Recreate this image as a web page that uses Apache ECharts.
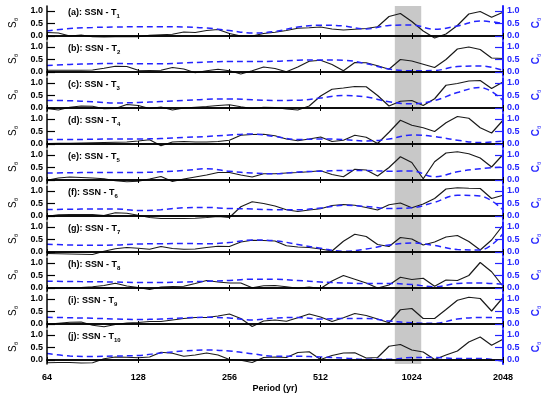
<!DOCTYPE html>
<html><head><meta charset="utf-8">
<script src="https://cdn.jsdelivr.net/npm/echarts@6/dist/echarts.min.js"></script>
<style>html,body{margin:0;padding:0;background:#fff}#c{width:550px;height:399px}</style>
</head><body><div id="c"></div>
<script>
// Period grid (yr), 1/8-octave spacing, for S_theta curves
const periods = [64, 69.8, 76.1, 83.0, 90.5, 98.7, 107.6, 117.4, 128, 139.6, 152.2, 166.0, 181.0, 197.4, 215.3, 234.8, 256, 279.2, 304.4, 332.0, 362.0, 394.8, 430.5, 469.5, 512, 558.3, 608.9, 664.0, 724.1, 789.6, 861.1, 939.0, 1024, 1116.7, 1217.8, 1328.0, 1448.2, 1579.3, 1722.2, 1878.1, 2048];
// Period grid (yr), 1/4-octave spacing, for C_theta curves
const cPeriods = [64, 76.1, 90.5, 107.6, 128, 152.2, 181.0, 215.3, 256, 304.4, 362.0, 430.5, 512, 608.9, 724.1, 861.1, 1024, 1217.8, 1448.2, 1722.2, 2048];
const xTicks = [64, 128, 256, 512, 1024, 2048];
const yTicks = [0, 0.5, 1.0];
const panelLetters = ['a','b','c','d','e','f','g','h','i','j'];
const panelSubs = ['1','2','3','4','5','6','7','8','9','10'];
const shadeRange = [900, 1100];

const sA = [0.14, 0.12, 0.0, 0.04, -0.03, -0.04, -0.03, -0.03, -0.03, 0.03, 0.05, 0.07, 0.16, 0.14, 0.22, 0.26, 0.1, 0.0, 0.0, 0.1, 0.15, 0.22, 0.31, 0.33, 0.36, 0.28, 0.24, 0.27, 0.3, 0.37, 0.78, 0.9, 0.58, 0.2, -0.08, 0.08, 0.42, 0.88, 0.98, 0.75, 0.95];
const sB = [0.07, 0.07, 0.07, 0.07, 0.08, 0.15, 0.23, 0.22, 0.07, 0.06, 0.07, 0.18, 0.12, -0.03, 0.05, 0.11, 0.05, -0.08, 0.05, 0.2, 0.14, 0.01, 0.2, 0.43, 0.47, 0.3, 0.05, 0.38, 0.37, 0.25, 0.11, 0.5, 0.44, 0.31, 0.18, 0.5, 0.92, 1.0, 0.9, 0.56, 0.54];
const sC = [-0.02, -0.08, 0.03, 0.08, 0.07, -0.03, -0.02, 0.14, 0.1, -0.02, 0.04, -0.08, 0.0, 0.03, 0.06, 0.1, 0.13, 0.05, -0.02, 0.03, 0.02, -0.04, -0.08, 0.08, 0.48, 0.75, 0.8, 0.86, 0.85, 0.5, 0.08, 0.27, 0.3, 0.1, 0.37, 0.91, 0.98, 1.08, 1.1, 0.78, 1.04];
const sD = [0.02, 0.03, 0.03, 0.04, 0.05, 0.06, 0.07, 0.08, 0.12, 0.17, -0.07, 0.08, 0.1, 0.08, 0.08, 0.1, 0.15, 0.35, 0.38, 0.39, 0.33, 0.2, 0.13, 0.2, 0.28, 0.1, 0.15, 0.35, 0.27, 0.02, 0.47, 0.95, 0.75, 0.65, 0.5, 0.85, 1.1, 1.03, 0.65, 0.44, 0.95];
const sE = [-0.01, 0.08, 0.12, 0.1, 0.08, 0.05, -0.03, -0.07, -0.05, 0.04, 0.14, -0.06, 0.04, 0.12, 0.2, 0.3, 0.3, 0.2, 0.12, 0.25, 0.25, 0.28, 0.3, 0.33, 0.37, 0.22, 0.13, 0.43, 0.4, 0.16, 0.5, 0.93, 0.7, 0.05, 0.73, 1.08, 1.13, 1.05, 0.88, 0.52, 1.02];
const sF = [-0.01, 0.05, 0.06, 0.06, 0.06, 0.02, 0.13, 0.11, 0.03, -0.06, -0.1, -0.1, -0.1, -0.09, -0.06, -0.02, -0.06, 0.37, 0.57, 0.5, 0.4, 0.25, 0.18, 0.24, 0.29, 0.42, 0.46, 0.43, 0.34, 0.24, 0.45, 0.52, 0.33, 0.48, 0.7, 1.08, 1.13, 1.11, 1.1, 0.7, 0.83];
const sG = [-0.06, -0.07, -0.08, -0.09, -0.1, 0.03, 0.13, 0.18, 0.15, 0.11, 0.22, 0.14, 0.11, 0.12, 0.18, 0.23, 0.22, 0.4, 0.47, 0.46, 0.44, 0.25, 0.2, 0.18, 0.12, 0.04, 0.43, 0.71, 0.62, 0.3, 0.22, 0.58, 0.52, 0.28, 0.4, 0.6, 0.66, 0.42, 0.08, 0.48, 1.07];
const sH = [0.0, 0.0, 0.01, 0.02, 0.05, 0.1, 0.19, 0.08, 0.02, -0.06, 0.04, 0.06, 0.07, 0.18, 0.3, 0.24, 0.2, 0.2, 0.01, 0.09, 0.1, 0.05, -0.01, 0.04, -0.02, 0.28, 0.5, 0.35, 0.2, 0.0, 0.12, 0.43, 0.34, 0.39, 0.07, 0.32, 0.3, 0.5, 1.02, 0.65, 0.07];
const sI = [-0.01, 0.03, 0.07, 0.08, -0.05, -0.11, -0.02, 0.04, 0.06, 0.1, 0.1, 0.16, 0.22, 0.26, 0.26, 0.32, 0.4, 0.22, -0.1, 0.12, 0.16, 0.11, 0.25, 0.4, 0.28, 0.1, 0.25, 0.42, 0.34, 0.2, 0.05, 0.57, 0.62, 0.22, 0.22, 0.58, 0.95, 1.07, 1.02, 0.52, 1.06];
const sJ = [-0.11, -0.1, -0.1, -0.12, -0.11, 0.05, 0.12, 0.11, 0.09, 0.12, 0.31, 0.27, 0.15, 0.2, 0.28, 0.2, 0.02, -0.01, -0.1, 0.1, 0.12, 0.1, 0.3, 0.33, 0.02, 0.18, 0.28, 0.29, 0.08, 0.1, 0.55, 0.62, 0.4, 0.32, 0.02, 0.2, 0.36, 0.72, 0.92, 0.59, 0.83];

const cA = [0.2, 0.3, 0.34, 0.36, 0.37, 0.37, 0.36, 0.32, 0.22, 0.12, 0.18, 0.36, 0.43, 0.4, 0.28, 0.42, 0.44, 0.27, 0.4, 0.6, 0.5];
const cB = [0.26, 0.3, 0.33, 0.34, 0.33, 0.33, 0.36, 0.4, 0.42, 0.42, 0.43, 0.47, 0.48, 0.47, 0.33, 0.12, 0.05, 0.06, 0.22, 0.24, 0.07];
const cC = [0.3, 0.29, 0.25, 0.2, 0.22, 0.26, 0.3, 0.35, 0.36, 0.33, 0.3, 0.31, 0.4, 0.5, 0.44, 0.25, 0.17, 0.3, 0.62, 0.82, 0.3];
const cD = [0.18, 0.18, 0.19, 0.2, 0.2, 0.22, 0.26, 0.3, 0.36, 0.4, 0.3, 0.18, 0.2, 0.18, 0.12, 0.2, 0.36, 0.3, 0.15, 0.06, 0.12];
const cE = [0.28, 0.29, 0.3, 0.3, 0.3, 0.33, 0.38, 0.45, 0.35, 0.28, 0.25, 0.32, 0.35, 0.38, 0.38, 0.35, 0.36, 0.13, 0.33, 0.45, 0.52];
const cF = [0.26, 0.27, 0.28, 0.28, 0.22, 0.25, 0.33, 0.34, 0.3, 0.28, 0.25, 0.25, 0.32, 0.43, 0.38, 0.3, 0.33, 0.55, 0.83, 0.8, 0.24];
const cG = [0.31, 0.28, 0.27, 0.28, 0.32, 0.33, 0.34, 0.33, 0.38, 0.48, 0.45, 0.3, 0.15, 0.03, 0.12, 0.28, 0.36, 0.26, 0.1, 0.08, 0.74];
const cH = [0.27, 0.26, 0.25, 0.24, 0.22, 0.22, 0.24, 0.27, 0.3, 0.35, 0.35, 0.3, 0.24, 0.2, 0.18, 0.18, 0.14, 0.05, 0.18, 0.2, 0.15];
const cI = [0.27, 0.25, 0.23, 0.2, 0.18, 0.2, 0.24, 0.27, 0.24, 0.16, 0.24, 0.26, 0.2, 0.22, 0.22, 0.12, 0.05, 0.03, 0.2, 0.26, 0.25];
const cJ = [0.26, 0.16, 0.14, 0.16, 0.18, 0.28, 0.36, 0.4, 0.36, 0.25, 0.15, 0.15, 0.12, 0.08, 0.03, 0.03, 0.1, 0.1, 0.06, 0.06, -0.05];

const sAll = [sA, sB, sC, sD, sE, sF, sG, sH, sI, sJ];
const cAll = [cA, cB, cC, cD, cE, cF, cG, cH, cI, cJ];

const FONT = 'Liberation Sans, Arial, sans-serif';
const BLUE = '#2424ff';
const N = 10, TOP0 = 6, PITCH = 36, H = 34, YMIN = -0.16, YMAX = 1.2;

const grid = [], xAxis = [], yAxis = [], series = [], title = [];
for (let i = 0; i < N; i++) {
  grid.push({ left: 36, right: 35, top: TOP0 + PITCH * i, height: H });
  const xBase = { gridIndex: i, type: 'log', logBase: 2, min: 64, max: 2048, splitLine: { show: false }, z: 10,
    axisLine: { show: true, lineStyle: { color: '#000', width: 1.5 } },
    axisTick: { show: true, inside: true, length: 3, lineStyle: { color: '#000', width: 1 } } };
  xAxis.push(Object.assign({}, xBase, { position: 'bottom',
    axisLabel: { show: i === N - 1, color: '#000', fontFamily: FONT, fontSize: 9, fontWeight: 'bold', margin: 9,
      customValues: xTicks, formatter: v => String(Math.round(v)) } }));
  xAxis.push(Object.assign({}, xBase, { position: 'top', axisLabel: { show: false } }));
  yAxis.push({ gridIndex: i, type: 'value', min: YMIN, max: YMAX, position: 'left', z: 10,
    axisLine: { show: true, lineStyle: { color: '#000', width: 1.5 } },
    axisTick: { show: true, inside: true, length: 8, customValues: yTicks, lineStyle: { color: '#000', width: 1.2 } },
    axisLabel: { customValues: yTicks, color: '#000', fontFamily: FONT, fontSize: 9, fontWeight: 'bold', margin: 4, formatter: v => v.toFixed(1) },
    splitLine: { show: false },
    name: '{m|S}{s|θ}', nameLocation: 'middle', nameRotate: 90, nameGap: 28,
    nameTextStyle: { rich: { m: { fontFamily: FONT, fontSize: 10, color: '#000' }, s: { fontFamily: FONT, fontSize: 6, color: '#000', padding: [6, 0, 0, 0] } } } });
  yAxis.push({ gridIndex: i, type: 'value', min: YMIN, max: YMAX, position: 'right', z: 10,
    axisLine: { show: true, lineStyle: { color: BLUE, width: 2 } },
    axisTick: { show: true, inside: true, length: 8, customValues: yTicks, lineStyle: { color: BLUE, width: 1.2 } },
    axisLabel: { customValues: yTicks, color: BLUE, fontFamily: FONT, fontSize: 9, fontWeight: 'bold', margin: 4, formatter: v => v.toFixed(1) },
    splitLine: { show: false },
    name: '{m|C}{s|θ}', nameLocation: 'middle', nameRotate: 90, nameGap: 27,
    nameTextStyle: { rich: { m: { fontFamily: FONT, fontSize: 10, color: BLUE, fontWeight: 'bold' }, s: { fontFamily: FONT, fontSize: 6, color: BLUE, padding: [6, 0, 0, 0] } } } });
  title.push({ left: 66, top: TOP0 + PITCH * i - 1, padding: [2, 2, 2, 2],
    text: '{t|(' + panelLetters[i] + '): SSN - T}{s|' + panelSubs[i] + '}',
    textStyle: { rich: { t: { fontFamily: FONT, fontSize: 9, color: '#000' }, s: { fontFamily: FONT, fontSize: 6, color: '#000', padding: [6, 0, 0, 0] } } } });
  series.push({ type: 'line', xAxisIndex: 2 * i, yAxisIndex: 2 * i, symbol: 'none', silent: true, z: 3,
    lineStyle: { color: '#1a1a1a', width: 1.2 },
    data: periods.map((p, j) => [p, sAll[i][j]]) });
  series.push({ type: 'line', xAxisIndex: 2 * i, yAxisIndex: 2 * i + 1, symbol: 'none', silent: true, z: 4, smooth: 0.4,
    lineStyle: { color: BLUE, width: 1.5, type: [6, 4] },
    data: cPeriods.map((p, j) => [p, cAll[i][j]]) });
}

const periodLabel = { type: 'text', left: 'center', top: 384, style: { text: 'Period (yr)', font: 'bold 9px ' + FONT, fill: '#000' } };
const chart = echarts.init(document.getElementById('c'), null, { renderer: 'canvas' });
chart.setOption({
  animation: false, backgroundColor: '#fff',
  title, grid, xAxis, yAxis, series,
  graphic: [periodLabel]
});
// shaded period band spanning all panels, positioned through the axes' own scales
const bx0 = chart.convertToPixel({ xAxisIndex: 0 }, shadeRange[0]);
const bx1 = chart.convertToPixel({ xAxisIndex: 0 }, shadeRange[1]);
const by0 = chart.convertToPixel({ yAxisIndex: 0 }, YMAX);
const by1 = chart.convertToPixel({ yAxisIndex: 2 * (N - 1) }, YMIN);
chart.setOption({ graphic: [periodLabel, { type: 'rect', z: -5, silent: true,
  shape: { x: bx0, y: by0, width: bx1 - bx0, height: by1 - by0 }, style: { fill: '#c8c8c8' } }] });
</script></body></html>
